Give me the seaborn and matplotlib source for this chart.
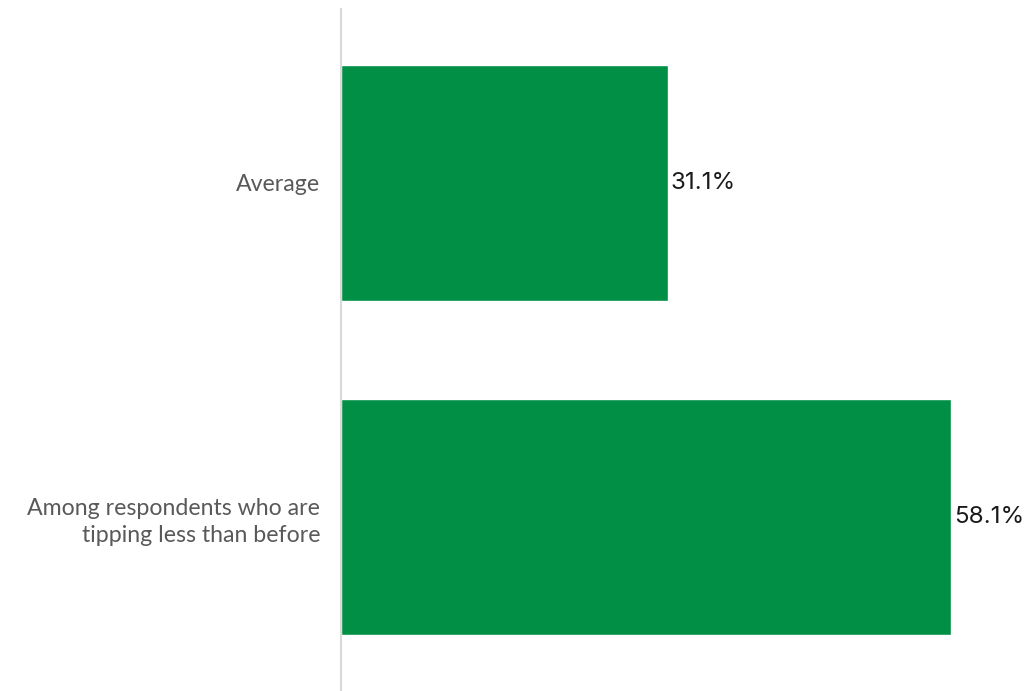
import matplotlib
matplotlib.use("Agg")
import matplotlib.pyplot as plt
import seaborn as sns
import pandas as pd

categories = ["Average", "Among respondents who are\ntipping less than before"]
values = [31.1, 58.1]
value_labels = ["31.1%", "58.1%"]

sns.set_style("white")
plt.rcParams["font.family"] = ["Lato", "DejaVu Sans"]

df = pd.DataFrame({"category": categories, "value": values})

fig = plt.figure(figsize=(10.32, 6.91), dpi=100)
ax = fig.add_axes([341 / 1032, 0.0, (1020 - 341) / 1032, 1 - 9 / 691])

sns.barplot(data=df, y="category", x="value", orient="h", color="#008F45",
            saturation=1, width=0.705, ax=ax)

ax.set_xlim(0, (1020 - 341) / 10.505)
ax.set_ylim(1.52, -0.52)
for side in ["top", "right", "bottom"]:
    ax.spines[side].set_visible(False)
ax.spines["left"].set_color("#d9d9d9")
ax.spines["left"].set_linewidth(1.5)
ax.set_xticks([])
ax.set_xlabel("")
ax.set_ylabel("")
ax.tick_params(axis="y", length=0, pad=15, labelsize=16.7, labelcolor="#595959")
for lbl in ax.get_yticklabels():
    lbl.set_horizontalalignment("right")
    lbl.set_multialignment("right")
    lbl.set_linespacing(1.35)

for i, (v, t) in enumerate(zip(values, value_labels)):
    ax.text(v + 0.25, i, t, va="center", ha="left", fontsize=17.4,
            color="#1a1a1a", family=["Inter", "DejaVu Sans"])

fig.savefig("out.png", dpi=100)
